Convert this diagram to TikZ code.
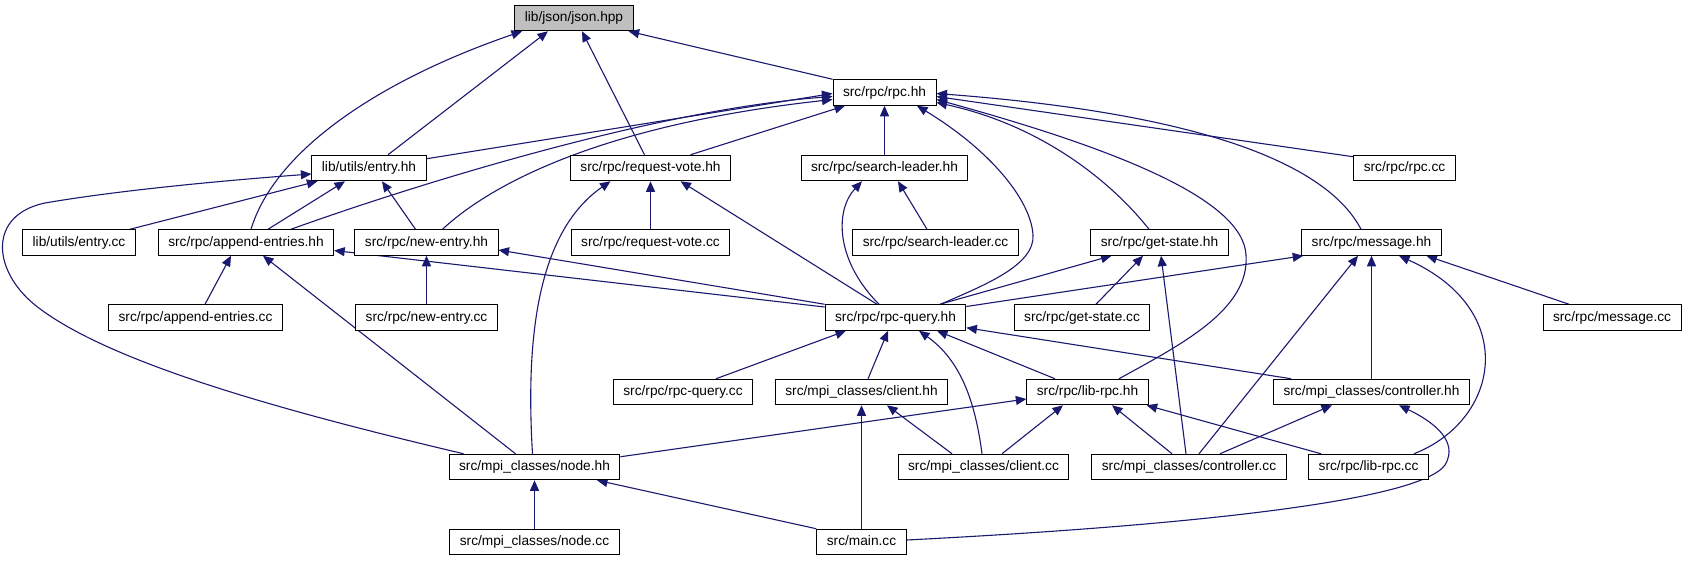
\documentclass[tikz,border=0pt]{standalone}
\usepackage{fontspec}
\setmainfont{Liberation Sans}
\usetikzlibrary{arrows.meta,calc}
\definecolor{mblue}{HTML}{191970}
\definecolor{rootgray}{HTML}{BFBFBF}
\pgfdeclarelayer{paper}
\pgfdeclarelayer{bg}
\pgfsetlayers{paper,bg,main}
\begin{document}
\begin{tikzpicture}[x=1pt,y=-1pt,
  box/.style={draw=black, line width=1pt, fill=white, inner xsep=10pt, inner ysep=0pt,
    minimum height=25.5pt, text height=10pt, text depth=3pt, font=\fontsize{13.7}{16}\selectfont},
  dep/.style={draw=mblue, line width=1.1pt, -{Triangle[length=10.5pt,width=9pt]}}]
\path[use as bounding box] (0,0) rectangle (1686,560);
\begin{pgfonlayer}{paper}
\fill[white] (0,0) rectangle (1686,560);
\end{pgfonlayer}

\node[box, fill=rootgray] (json) at (574,18) {lib/json/json.hpp};
\node[box] (rpchh) at (884.5,92.5) {src/rpc/rpc.hh};
\node[box] (entryhh) at (369,168) {lib/utils/entry.hh};
\node[box] (rvhh) at (650.5,168) {src/rpc/request-vote.hh};
\node[box] (slhh) at (884.5,168) {src/rpc/search-leader.hh};
\node[box] (rpccc) at (1404.5,168) {src/rpc/rpc.cc};
\node[box] (entrycc) at (79,242.5) {lib/utils/entry.cc};
\node[box] (aehh) at (246,242.5) {src/rpc/append-entries.hh};
\node[box] (nehh) at (426.5,242.5) {src/rpc/new-entry.hh};
\node[box] (rvcc) at (650.5,242.5) {src/rpc/request-vote.cc};
\node[box] (slcc) at (935.5,242.5) {src/rpc/search-leader.cc};
\node[box] (gshh) at (1159.5,242.5) {src/rpc/get-state.hh};
\node[box] (msghh) at (1371.5,242.5) {src/rpc/message.hh};
\node[box] (aecc) at (195.5,317.5) {src/rpc/append-entries.cc};
\node[box] (necc) at (426.5,317.5) {src/rpc/new-entry.cc};
\node[box] (rqhh) at (895.5,317.5) {src/rpc/rpc-query.hh};
\node[box] (gscc) at (1082,317.5) {src/rpc/get-state.cc};
\node[box] (msgcc) at (1612,317.5) {src/rpc/message.cc};
\node[box] (rqcc) at (683,392) {src/rpc/rpc-query.cc};
\node[box] (clhh) at (861.5,392) {src/mpi\_classes/client.hh};
\node[box] (lrhh) at (1087.5,392) {src/rpc/lib-rpc.hh};
\node[box] (cthh) at (1371.5,392) {src/mpi\_classes/controller.hh};
\node[box] (nodehh) at (534.5,467) {src/mpi\_classes/node.hh};
\node[box] (clcc) at (983.5,467) {src/mpi\_classes/client.cc};
\node[box] (ctcc) at (1189,467) {src/mpi\_classes/controller.cc};
\node[box] (lrcc) at (1368.5,467) {src/rpc/lib-rpc.cc};
\node[box] (nodecc) at (534.5,542) {src/mpi\_classes/node.cc};
\node[box] (maincc) at (861.5,542) {src/main.cc};

\begin{pgfonlayer}{bg}
% -> json.hpp
\draw[dep] ($(entryhh.north)+(19,0)$) -- ($(json.south)+(-26,0)$);
\draw[dep] ($(aehh.north)+(5,0)$) .. controls (275,150) and (380,80) .. ($(json.south)+(-52,0)$);
\draw[dep] ($(rvhh.north)+(-6,0)$) -- ($(json.south)+(8,0)$);
\draw[dep] (rpchh.north west) -- ($(json.south east)+(-5,0)$);
% -> rpc.hh
\draw[dep] ($(entryhh.north east)+(0,4)$) -- ($(rpchh.west)+(0,1)$);
\draw[dep] ($(aehh.north)+(45,0)$) .. controls (400,190) and (650,110) .. ($(rpchh.west)+(0,4)$);
\draw[dep] ($(nehh.north)+(16,0)$) .. controls (490,185) and (600,125) .. ($(rpchh.west)+(0,7)$);
\draw[dep] ($(rvhh.north)+(40,0)$) -- ($(rpchh.south)+(-39.5,0)$);
\draw[dep] (slhh.north) -- (rpchh.south);
\draw[dep] ($(rqhh.north)+(45,0)$) .. controls (985,285) and (1035,265) .. (1033,235) .. controls (1031,200) and (990,150) .. ($(rpchh.south)+(32.5,0)$);
\draw[dep] ($(gshh.north)+(-10.5,0)$) .. controls (1110,180) and (1040,125) .. ($(rpchh.east)+(0,10)$);
\draw[dep] ($(lrhh.north)+(31.5,0)$) .. controls (1180,345) and (1250,310) .. (1246,255) .. controls (1243,200) and (1120,150) .. ($(rpchh.east)+(0,7)$);
\draw[dep] ($(msghh.north)+(-10.5,0)$) .. controls (1330,170) and (1220,115) .. ($(rpchh.east)+(0,1)$);
\draw[dep] ($(rpccc.north west)+(0,2)$) -- ($(rpchh.east)+(0,4)$);
% -> entry.hh
\draw[dep] ($(entrycc.north)+(51,0)$) -- ($(entryhh.south west)+(6,0)$);
\draw[dep] ($(aehh.north)+(22,0)$) -- ($(entryhh.south)+(-24,0)$);
\draw[dep] ($(nehh.north)+(-11,0)$) -- ($(entryhh.south)+(13,0)$);
\draw[dep] ($(nodehh.north)+(-71,0)$) .. controls (300,415) and (110,365) .. (35,305) .. controls (-8,270) and (-12,215) .. (45,203) .. controls (120,190) and (230,180) .. ($(entryhh.west)+(0,6)$);
% -> append-entries.hh
\draw[dep] ($(aecc.north)+(9.5,0)$) -- ($(aehh.south)+(-15,0)$);
\draw[dep] ($(nodehh.north)+(-19,0)$) -- ($(aehh.south)+(17,0)$);
\draw[dep] ($(rqhh.west)+(0,-10.5)$) -- ($(aehh.east)+(0,8)$);
% -> new-entry.hh
\draw[dep] (rqhh.north west) -- ($(nehh.east)+(0,7.5)$);
\draw[dep] (necc.north) -- (nehh.south);
% -> request-vote.hh
\draw[dep] (rvcc.north) -- (rvhh.south);
\draw[dep] ($(nodehh.north)+(-2,0)$) .. controls (525,330) and (540,230) .. ($(rvhh.south)+(-40,0)$);
\draw[dep] ($(rqhh.north)+(-18.5,0)$) -- ($(rvhh.south)+(30,0)$);
% -> search-leader.hh
\draw[dep] ($(slcc.north)+(-8.5,0)$) -- ($(slhh.south)+(13.5,0)$);
\draw[dep] ($(rqhh.north)+(-16.5,0)$) .. controls (835,260) and (835,210) .. ($(slhh.south)+(-22.5,0)$);
% -> get-state.hh
\draw[dep] ($(rqhh.north)+(44.5,0)$) -- ($(gshh.south)+(-48,0)$);
\draw[dep] ($(gscc.north)+(14,0)$) -- ($(gshh.south)+(-16.5,0)$);
\draw[dep] ($(ctcc.north)+(-3,0)$) -- ($(gshh.south)+(1.5,0)$);
% -> message.hh
\draw[dep] ($(rqhh.east)+(0,-11)$) -- ($(msghh.south west)+(2,0)$);
\draw[dep] ($(ctcc.north)+(10,0)$) -- ($(msghh.south)+(-13.5,0)$);
\draw[dep] (cthh.north) -- (msghh.south);
\draw[dep] ($(lrcc.north)+(45.5,0)$) .. controls (1500,420) and (1520,310) .. ($(msghh.south)+(27.5,0)$);
\draw[dep] ($(msgcc.north)+(-43,0)$) -- ($(msghh.south)+(55,0)$);
% -> rpc-query.hh
\draw[dep] ($(rqcc.north)+(33,0)$) -- ($(rqhh.south)+(-49.5,0)$);
\draw[dep] ($(clhh.north)+(6.5,0)$) -- ($(rqhh.south)+(-7.5,0)$);
\draw[dep] ($(clcc.north)+(-1.5,0)$) .. controls (975,400) and (960,360) .. ($(rqhh.south)+(23.5,0)$);
\draw[dep] ($(lrhh.north)+(-32.5,0)$) -- ($(rqhh.south)+(41.5,0)$);
\draw[dep] ($(cthh.north west)+(18,0)$) -- ($(rqhh.south east)+(0,-3)$);
% -> client.hh
\draw[dep] ($(clcc.north)+(-31.5,0)$) -- ($(clhh.south)+(25.5,0)$);
\draw[dep] (maincc.north) -- (clhh.south);
% -> lib-rpc.hh
\draw[dep] ($(nodehh.north east)+(0,3)$) -- ($(lrhh.west)+(0,7)$);
\draw[dep] ($(clcc.north)+(18.5,0)$) -- ($(lrhh.south)+(-24.5,0)$);
\draw[dep] ($(ctcc.north)+(-17,0)$) -- ($(lrhh.south)+(24.5,0)$);
\draw[dep] ($(lrcc.north)+(-47.5,0)$) -- ($(lrhh.south east)+(-2,0)$);
% -> controller.hh
\draw[dep] ($(ctcc.north)+(31,0)$) -- ($(cthh.south)+(-39.5,0)$);
\draw[dep] ($(maincc.east)+(0,-2)$) .. controls (1200,525) and (1420,500) .. (1445,465) .. controls (1460,440) and (1430,420) .. ($(cthh.south)+(27.5,0)$);
% -> node.hh
\draw[dep] (nodecc.north) -- (nodehh.south);
\draw[dep] (maincc.north west) -- ($(nodehh.south)+(62.5,0)$);
\end{pgfonlayer}
\end{tikzpicture}
\end{document}
